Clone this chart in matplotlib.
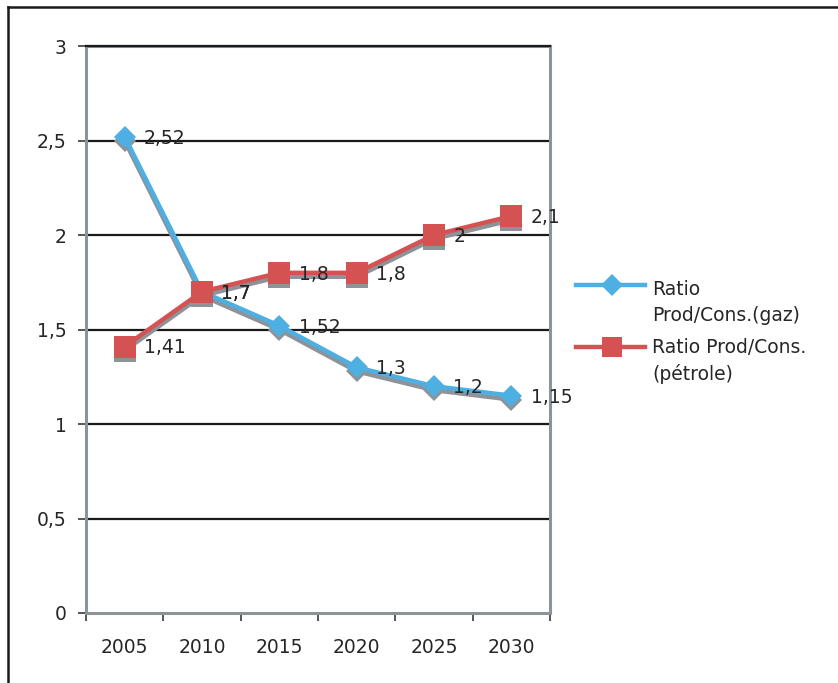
import matplotlib
matplotlib.use("Agg")
import matplotlib.pyplot as plt
import matplotlib.transforms as mtransforms
from matplotlib.lines import Line2D

years = ["2005", "2010", "2015", "2020", "2025", "2030"]
gaz = [2.52, 1.7, 1.52, 1.3, 1.2, 1.15]
petrole = [1.41, 1.7, 1.8, 1.8, 2.0, 2.1]
gaz_label = "Ratio\nProd/Cons.(gaz)"
petrole_label = "Ratio Prod/Cons.\n(pétrole)"
yticks = [0, 0.5, 1, 1.5, 2, 2.5, 3]


def fr(v):
    s = f"{v:g}"
    return s.replace(".", ",")


W, H = 838, 683
fig = plt.figure(figsize=(W / 100, H / 100), dpi=100)
fig.patch.set_facecolor("white")
ax = fig.add_axes([86 / W, 1 - 613 / H, (550 - 86) / W, (613 - 46) / H])

blue = "#4EB0E2"
red = "#D55253"
shadow = "#8D9399"
txt = "#262626"
axgray = "#8C949A"
fs = 13.5

x = list(range(len(years)))
ax.set_xlim(-0.5, len(years) - 0.5)
ax.set_ylim(0, 3)

for yv in yticks[1:]:
    ax.axhline(yv, color="#1a1a1a", lw=1.6, zorder=2.6 if yv == 3 else 1, clip_on=False)

sh = mtransforms.ScaledTranslation(0, -0.04, fig.dpi_scale_trans)
for vals, col, mk, ms in [(gaz, blue, "D", 11.5), (petrole, red, "s", 16)]:
    ax.plot(x, vals, color=shadow, lw=3.2, marker=mk, ms=ms, mew=0,
            transform=ax.transData + sh, zorder=2, solid_joinstyle="miter")
for vals, col, mk, ms in [(gaz, blue, "D", 11.5), (petrole, red, "s", 16)]:
    ax.plot(x, vals, color=col, lw=3.2, marker=mk, ms=ms, mew=0, zorder=3,
            solid_joinstyle="miter")

for vals in (gaz, petrole):
    for xi, v in zip(x, vals):
        ax.annotate(fr(v), (xi, v), xytext=(14, -1), textcoords="offset points",
                    va="center", ha="left", fontsize=fs, color=txt, zorder=5)

ax.set_yticks(yticks)
ax.set_yticklabels([fr(v) for v in yticks])
ax.set_xticks([i - 0.5 for i in range(len(years) + 1)])
ax.set_xticklabels([])
ax.set_xticks(x, minor=True)
ax.set_xticklabels(years, minor=True)
ax.tick_params(axis="x", which="major", length=6, width=1.2, color="#3a3a3a", direction="out")
ax.tick_params(axis="x", which="minor", length=0, pad=18, labelsize=fs, labelcolor=txt)
ax.tick_params(axis="y", which="major", length=6, width=1.2, color="#3a3a3a", pad=8,
               labelsize=fs, labelcolor=txt)
for s in ax.spines.values():
    s.set_color(axgray)
    s.set_linewidth(2.2)
ax.spines["top"].set_zorder(2.5)
ax.set_facecolor("white")


def fx(px):
    return px / W


def fy(py):
    return 1 - py / H


for py, col, mk, ms, lab, ty in [(285, blue, "D", 11, gaz_label, 280),
                                   (347, red, "s", 15, petrole_label, 338)]:
    fig.add_artist(Line2D([fx(576), fx(645)], [fy(py), fy(py)], color=col, lw=3.2,
                          transform=fig.transFigure))
    fig.add_artist(Line2D([fx(612)], [fy(py)], color=col, marker=mk, ms=ms, mew=0,
                          transform=fig.transFigure))
    fig.text(fx(652), fy(ty), lab, ha="left", va="top", fontsize=fs, color=txt,
             linespacing=1.45)

fig.add_artist(Line2D([fx(8), fx(8)], [fy(7), 0], color="#1a1a1a", lw=1.8,
                      transform=fig.transFigure))
fig.add_artist(Line2D([fx(8), 1], [fy(7), fy(7)], color="#1a1a1a", lw=1.8,
                      transform=fig.transFigure))

fig.savefig("out.png", dpi=100, facecolor="white")
